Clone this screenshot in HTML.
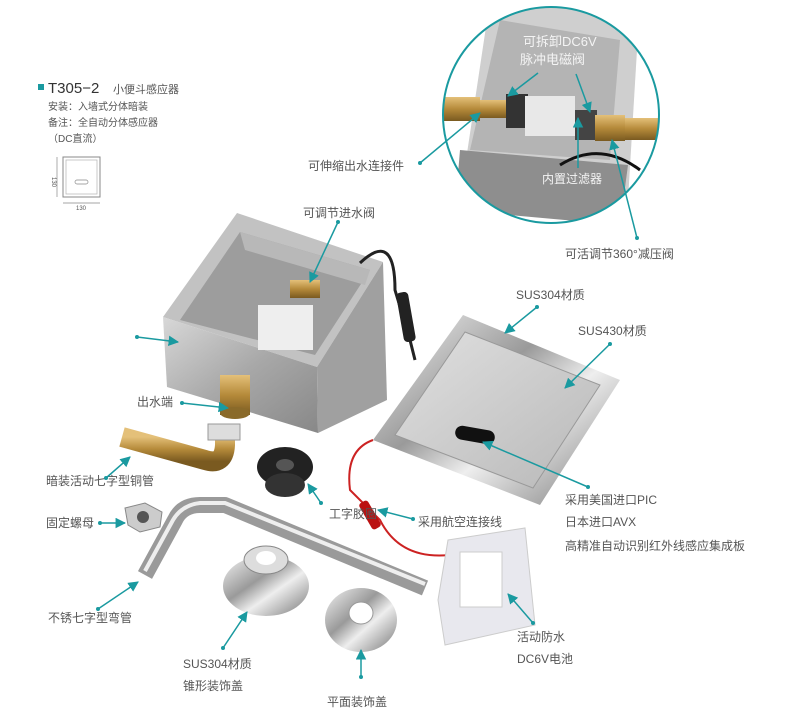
<!DOCTYPE html>
<html><head><meta charset="utf-8"><style>
html,body{margin:0;padding:0;background:#fff;}
svg{display:block;font-family:"Liberation Sans","Noto Sans CJK SC",sans-serif;}
.l{font-size:12px;fill:#555;}
.c{stroke:#1a9aa0;stroke-width:1.5;fill:none;}
.d{fill:#1a9aa0;}
</style></head><body>
<svg width="800" height="720" viewBox="0 0 800 720" xmlns="http://www.w3.org/2000/svg">
<defs>
<linearGradient id="steel" x1="0" y1="0" x2="1" y2="1"><stop offset="0" stop-color="#d8d8d8"/><stop offset="0.5" stop-color="#a8a8a8"/><stop offset="1" stop-color="#888"/></linearGradient>
<linearGradient id="chrome" x1="0" y1="0" x2="1" y2="1"><stop offset="0" stop-color="#f4f4f4"/><stop offset="0.4" stop-color="#9a9a9a"/><stop offset="0.6" stop-color="#eee"/><stop offset="1" stop-color="#777"/></linearGradient>
<linearGradient id="brass" x1="0" y1="0" x2="0" y2="1"><stop offset="0" stop-color="#e4c079"/><stop offset="0.5" stop-color="#b58a3a"/><stop offset="1" stop-color="#7a5a20"/></linearGradient>
<linearGradient id="brush" x1="0" y1="0" x2="1" y2="1"><stop offset="0" stop-color="#e0e0e0"/><stop offset="1" stop-color="#b8b8b8"/></linearGradient>
<clipPath id="cc"><circle cx="551" cy="115" r="108"/></clipPath>
<marker id="a" viewBox="0 0 10 10" refX="9" refY="5" markerWidth="7" markerHeight="7" orient="auto"><path d="M0,0L10,5L0,10z" fill="#1a9aa0"/></marker>
</defs>

<rect x="38" y="84" width="6" height="6" fill="#1a9aa0"/>
<text x="48" y="93" font-size="15" fill="#333">T305−2</text>
<text x="113" y="93" font-size="11" fill="#555">小便斗感应器</text>
<text x="48" y="110" font-size="10" fill="#555">安装：入墙式分体暗装</text>
<text x="48" y="126" font-size="10" fill="#555">备注：全自动分体感应器</text>
<text x="48" y="142" font-size="10" fill="#555">（DC直流）</text>
<rect x="63" y="157" width="37" height="40" fill="none" stroke="#888" stroke-width="1"/>
<rect x="66" y="160" width="31" height="34" fill="none" stroke="#bbb" stroke-width="0.8"/>
<rect x="75" y="180" width="13" height="4" rx="2" fill="none" stroke="#888" stroke-width="0.7"/>
<line x1="57" y1="157" x2="57" y2="197" stroke="#888" stroke-width="0.7"/>
<line x1="63" y1="203" x2="100" y2="203" stroke="#888" stroke-width="0.7"/>
<text x="52" y="177" font-size="6" fill="#555" transform="rotate(90 52 177)">130</text>
<text x="76" y="210" font-size="6" fill="#555">130</text>

<g clip-path="url(#cc)">
<rect x="430" y="0" width="240" height="240" fill="#fff"/>
<polygon points="490,0 640,0 628,200 460,200" fill="#cfcfcf"/>
<polygon points="500,20 620,40 610,160 470,150" fill="#b4b4b4"/>
<polygon points="460,150 628,165 620,225 455,210" fill="#8e8e8e"/>
<rect x="440" y="97" width="40" height="24" fill="url(#brass)"/>
<rect x="480" y="100" width="30" height="18" fill="url(#brass)"/>
<rect x="506" y="94" width="22" height="34" fill="#333"/>
<rect x="525" y="96" width="50" height="40" fill="#e8e8e8"/>
<rect x="575" y="110" width="22" height="30" fill="#444"/>
<rect x="595" y="115" width="30" height="26" fill="url(#brass)"/>
<rect x="625" y="118" width="35" height="22" fill="url(#brass)"/>
<path d="M560,165 Q600,140 640,170" stroke="#111" stroke-width="3" fill="none"/>
<text x="523" y="46" font-size="13" fill="#f4f4f4">可拆卸DC6V</text>
<text x="520" y="64" font-size="13" fill="#f4f4f4">脉冲电磁阀</text>
<text x="542" y="183" font-size="12" fill="#f4f4f4">内置过滤器</text>
<line x1="538" y1="73" x2="508" y2="96" class="c" marker-end="url(#a)"/>
<line x1="576" y1="74" x2="590" y2="112" class="c" marker-end="url(#a)"/>
<line x1="578" y1="168" x2="578" y2="118" class="c" marker-end="url(#a)"/>
</g>
<circle cx="551" cy="115" r="108" fill="none" stroke="#1a9aa0" stroke-width="2"/>

<text x="308" y="170" class="l">可伸缩出水连接件</text>
<circle cx="420" cy="163" r="2" class="d"/><line x1="420" y1="163" x2="480" y2="113" class="c" marker-end="url(#a)"/>
<text x="565" y="258" class="l">可活调节360°减压阀</text>
<circle cx="637" cy="238" r="2" class="d"/><line x1="637" y1="238" x2="612" y2="140" class="c" marker-end="url(#a)"/>

<!-- box -->
<polygon points="163,317 237,213 383,262 317,367" fill="#c2c2c2"/>
<polygon points="180,320 240,232 370,270 315,355" fill="#9d9d9d"/>
<polygon points="240,232 370,270 365,285 245,250" fill="#b8b8b8"/>
<polygon points="163,317 317,367 318,433 167,387" fill="url(#steel)"/>
<polygon points="317,367 383,262 387,400 318,433" fill="#a0a0a0"/>
<rect x="290" y="280" width="30" height="18" fill="url(#brass)"/>
<rect x="258" y="305" width="55" height="45" fill="#eee"/>
<path d="M360,263 Q395,230 395,290 L410,340 L415,360" stroke="#222" stroke-width="3" fill="none"/>
<rect x="400" y="292" width="12" height="50" rx="4" fill="#222" transform="rotate(-10 406 317)"/>
<rect x="220" y="375" width="30" height="40" fill="url(#brass)"/>
<ellipse cx="235" cy="413" rx="15" ry="6" fill="#8a6a2a"/>

<!-- panel -->
<polygon points="463,315 620,380 540,505 373,440" fill="url(#chrome)"/>
<polygon points="465,332 600,385 533,488 395,435" fill="url(#brush)" stroke="#999"/>
<rect x="455" y="428" width="40" height="14" rx="7" fill="#111" transform="rotate(10 475 435)"/>
<path d="M373,440 Q345,450 350,490 L380,520 Q400,560 450,555" stroke="#c22" stroke-width="2" fill="none"/>
<rect x="365" y="500" width="10" height="30" rx="3" fill="#b11" transform="rotate(-30 370 515)"/>

<!-- battery -->
<polygon points="448,540 525,528 535,625 445,645 438,600" fill="#e8e8ee" stroke="#ccc"/>
<rect x="460" y="552" width="42" height="55" fill="#fff" stroke="#ccc"/>

<!-- brass elbow -->
<path d="M122,437 L205,460 Q224,466 225,445 L225,438" stroke="url(#brass)" stroke-width="20" fill="none"/>
<rect x="208" y="424" width="32" height="16" fill="#ddd" stroke="#999"/>
<!-- rubber -->
<ellipse cx="285" cy="467" rx="28" ry="20" fill="#222"/>
<ellipse cx="285" cy="485" rx="20" ry="12" fill="#333"/>
<ellipse cx="285" cy="465" rx="9" ry="6" fill="#555"/>
<!-- nut -->
<polygon points="125,508 145,503 162,512 160,527 140,532 128,525" fill="#ccc" stroke="#888"/>
<circle cx="143" cy="517" r="6" fill="#555"/>
<!-- pipe -->
<path d="M145,575 L175,520 Q182,505 200,505 L225,505 L425,588" stroke="#9a9a9a" stroke-width="16" fill="none" stroke-linejoin="round"/>
<path d="M145,571 L173,520 Q182,505 200,503 L225,503 L425,584" stroke="#eee" stroke-width="4" fill="none"/>
<!-- cone cover -->
<ellipse cx="266" cy="586" rx="43" ry="30" fill="url(#chrome)"/>
<ellipse cx="266" cy="560" rx="22" ry="14" fill="#ddd" stroke="#888"/>
<ellipse cx="266" cy="558" rx="10" ry="7" fill="#fff"/>
<!-- flat cover -->
<ellipse cx="361" cy="620" rx="36" ry="32" fill="url(#chrome)"/>
<ellipse cx="361" cy="613" rx="12" ry="11" fill="#fff" stroke="#999"/>

<text x="303" y="217" class="l">可调节进水阀</text>
<circle cx="338" cy="222" r="2" class="d"/><line x1="338" y1="222" x2="310" y2="282" class="c" marker-end="url(#a)"/>
<circle cx="137" cy="337" r="2" class="d"/><line x1="137" y1="337" x2="178" y2="342" class="c" marker-end="url(#a)"/>
<text x="137" y="406" class="l">出水端</text>
<circle cx="182" cy="403" r="2" class="d"/><line x1="182" y1="403" x2="228" y2="408" class="c" marker-end="url(#a)"/>
<text x="46" y="485" class="l">暗装活动七字型铜管</text>
<circle cx="106" cy="478" r="2" class="d"/><line x1="106" y1="478" x2="130" y2="457" class="c" marker-end="url(#a)"/>
<text x="329" y="518" class="l">工字胶圈</text>
<circle cx="321" cy="503" r="2" class="d"/><line x1="321" y1="503" x2="308" y2="484" class="c" marker-end="url(#a)"/>
<text x="46" y="527" class="l">固定螺母</text>
<circle cx="100" cy="523" r="2" class="d"/><line x1="100" y1="523" x2="125" y2="523" class="c" marker-end="url(#a)"/>
<text x="418" y="526" class="l">采用航空连接线</text>
<circle cx="413" cy="519" r="2" class="d"/><line x1="413" y1="519" x2="378" y2="510" class="c" marker-end="url(#a)"/>
<text x="565" y="504" class="l">采用美国进口PIC</text>
<text x="565" y="526" class="l">日本进口AVX</text>
<text x="565" y="550" class="l">高精准自动识别红外线感应集成板</text>
<circle cx="588" cy="487" r="2" class="d"/><line x1="588" y1="487" x2="483" y2="442" class="c" marker-end="url(#a)"/>
<text x="48" y="622" class="l">不锈七字型弯管</text>
<circle cx="98" cy="609" r="2" class="d"/><line x1="98" y1="609" x2="138" y2="582" class="c" marker-end="url(#a)"/>
<text x="183" y="668" class="l">SUS304材质</text>
<text x="183" y="690" class="l">锥形装饰盖</text>
<circle cx="223" cy="648" r="2" class="d"/><line x1="223" y1="648" x2="247" y2="612" class="c" marker-end="url(#a)"/>
<text x="327" y="706" class="l">平面装饰盖</text>
<circle cx="361" cy="677" r="2" class="d"/><line x1="361" y1="677" x2="361" y2="650" class="c" marker-end="url(#a)"/>
<text x="517" y="641" class="l">活动防水</text>
<text x="517" y="663" class="l">DC6V电池</text>
<circle cx="533" cy="623" r="2" class="d"/><line x1="533" y1="623" x2="508" y2="594" class="c" marker-end="url(#a)"/>
<text x="516" y="299" class="l">SUS304材质</text>
<circle cx="537" cy="307" r="2" class="d"/><line x1="537" y1="307" x2="505" y2="333" class="c" marker-end="url(#a)"/>
<text x="578" y="335" class="l">SUS430材质</text>
<circle cx="610" cy="344" r="2" class="d"/><line x1="610" y1="344" x2="565" y2="388" class="c" marker-end="url(#a)"/>
</svg>
</body></html>
